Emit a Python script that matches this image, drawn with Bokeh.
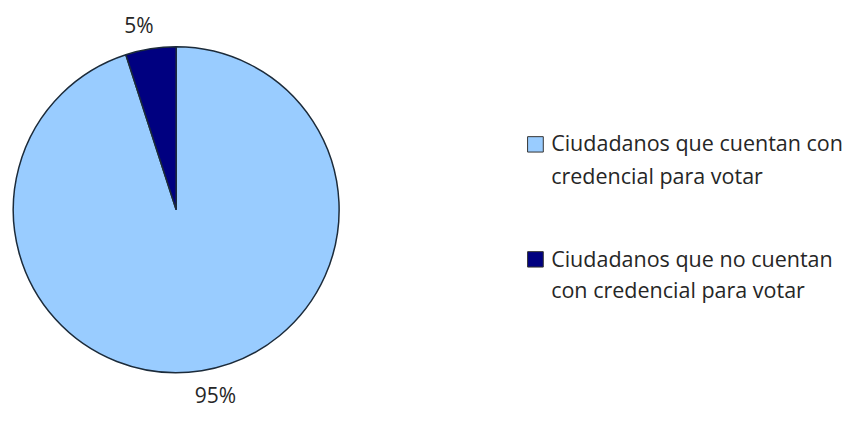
from bokeh.plotting import figure
from bokeh.models import Range1d, ColumnDataSource
from bokeh.core.properties import value
from bokeh.embed import file_html
from bokeh.resources import INLINE
import math

categories = [["Ciudadanos que cuentan con", "credencial para votar"],
              ["Ciudadanos que no cuentan", "con credencial para votar"]]
values = [95, 5]
pct_labels = ["95%", "5%"]
colors = ["#99CCFF", "#000080"]

W, H = 850, 408
p = figure(width=W, height=H, output_backend="svg", toolbar_location=None,
           x_range=Range1d(0, 866), y_range=Range1d(0, 424),
           min_border=0, outline_line_color=None)
p.axis.visible = False
p.grid.visible = False


def Y(img_y):
    return 424 - img_y


FONT = value("Open Sans")
TXT = "#262626"

cx, cy, r = 179, Y(217.5), 166
total = sum(values)
top = math.pi / 2
dark_end = top + 2 * math.pi * values[1] / total
src = ColumnDataSource(dict(x=[cx, cx], y=[cy, cy],
                            s=[dark_end, top], e=[top + 2 * math.pi, dark_end],
                            c=colors))
p.wedge(x="x", y="y", radius=r, start_angle="s", end_angle="e", fill_color="c",
        line_color="#1C2B3A", line_width=1.5, source=src)

# percentage labels
p.text(x=[219, 141], y=[Y(410), Y(25)], text=pct_labels, text_font=FONT,
       text_font_size="21px", text_color=TXT, text_align="center",
       text_baseline="middle")

# legend
sq_y = [Y(149.5), Y(269)]
p.rect(x=[545, 545], y=sq_y, width=16, height=16, fill_color=colors,
       line_color="#333333", line_width=1)
line_y = [[148, 182], [268, 300]]
xs, ys, ts = [], [], []
for lines, yy in zip(categories, line_y):
    for t, y in zip(lines, yy):
        xs.append(561)
        ys.append(Y(y))
        ts.append(t)
p.text(x=xs, y=ys, text=ts, text_font=FONT, text_font_size="21.5px",
       text_color=TXT, text_align="left", text_baseline="middle")

open("out.html", "w").write(file_html(p, INLINE))
